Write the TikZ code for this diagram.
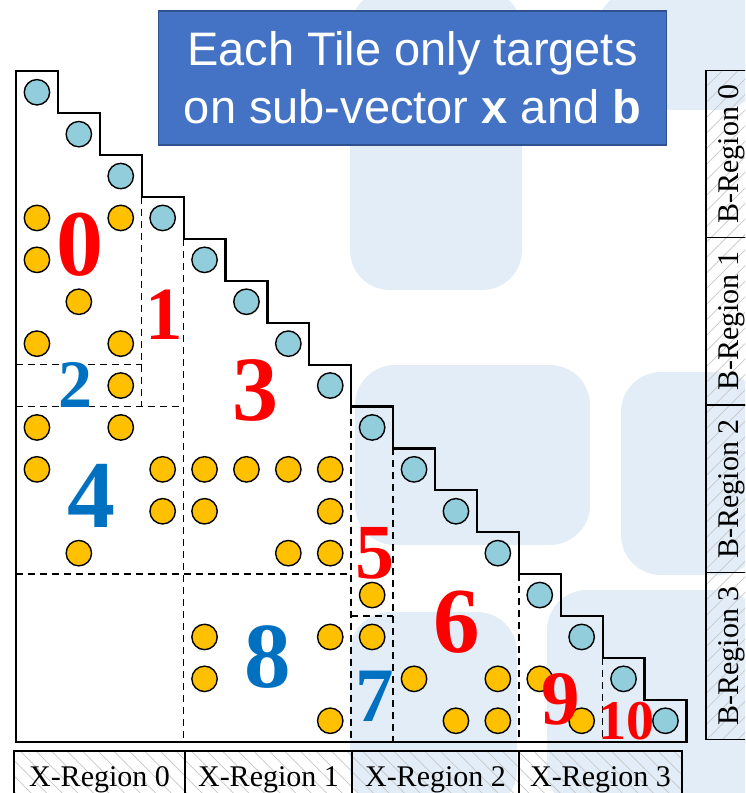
\documentclass[tikz,border=0pt]{standalone}
\usepackage{fontspec}
\setmainfont{Liberation Serif}
\newfontfamily\titlefont{Liberation Sans}
\usepackage{xcolor}
\usepackage{tikz}
\usetikzlibrary{patterns.meta}
\definecolor{wmblue}{RGB}{226,237,247}
\definecolor{titleblue}{RGB}{68,114,196}
\definecolor{titleedge}{RGB}{47,82,143}
\definecolor{diagblue}{RGB}{146,205,220}
\definecolor{nzyellow}{RGB}{255,192,0}
\definecolor{tilered}{RGB}{255,0,0}
\definecolor{tileblue}{RGB}{0,112,192}

\begin{document}
\begin{tikzpicture}[x=1pt, y=-1pt,
  dot/.style={draw=black, line width=1.4pt},
  tileedge/.style={line width=1.5pt, dash pattern=on 7pt off 5pt},
  regionbox/.style={draw=black, line width=1.8pt, pattern color=black!22},
  regionlabel/.style={inner sep=0pt, font=\fontsize{30}{36}\selectfont},
  tilenum/.style 2 args={text=#1, inner sep=0pt, font=\fontsize{#2}{#2}\selectfont\bfseries},
  titlebox/.style={fill=titleblue, draw=titleedge, line width=1.6pt, text=white,
    align=center, inner sep=0pt, minimum width=508pt, minimum height=134pt,
    font=\titlefont\fontsize{47}{58}\selectfont}]

\clip (0,0) rectangle (745,793);

% faint logo in the background
\foreach \xa/\ya/\xb/\yb in {350/-10/522/290, 597/-10/760/110, 355/365/590/545,
    621/372/760/575, 350/612/517/810, 547/590/760/810} {
  \fill[wmblue, rounded corners=40pt] (\xa,\ya) rectangle (\xb,\yb);
}

\node[titlebox] (title) at (412.5,78) {Each Tile only targets\\on sub-vector \textbf{x} and \textbf{b}};

\begin{scope}[shift={(16,71.3)}, x=41.9pt, y=-41.9pt]
  \draw[line width=2.2pt] (0,0) \foreach \r in {0,...,15} { -- (\r+1,\r) -- (\r+1,\r+1) } -- (0,16) -- cycle;

  % tile borders
  \foreach \a/\b in {{3,3}/{3,8}, {4,4}/{4,16}, {0,7}/{3,7}, {0,8}/{4,8}, {0,12}/{8,12},
      {8,8}/{8,16}, {9,9}/{9,16}, {8,13}/{9,13}, {12,12}/{12,16}, {14,14}/{14,16}} {
    \draw[tileedge] (\a) -- (\b);
  }

  \foreach \r in {0,...,15} {
    \draw[dot, fill=diagblue] (\r+0.5,\r+0.5) circle (12.7pt);
  }
  \foreach \c/\r in {0/3, 2/3, 0/4, 1/5, 0/6, 2/6, 2/7, 0/8, 2/8,
      0/9, 3/9, 4/9, 5/9, 6/9, 7/9, 3/10, 4/10, 7/10, 1/11, 6/11, 7/11,
      8/12, 4/13, 7/13, 8/13, 4/14, 9/14, 11/14, 12/14, 7/15, 10/15, 11/15, 13/15} {
    \draw[dot, fill=nzyellow] (\c+0.5,\r+0.5) circle (12.7pt);
  }
\end{scope}

\node[tilenum={tilered}{94}] (t0) at (80,245) {0};
\node[tilenum={tilered}{75}] (t1) at (164,315) {1};
\node[tilenum={tileblue}{68}] (t2) at (75,385) {2};
\node[tilenum={tilered}{92}] (t3) at (255,390) {3};
\node[tilenum={tileblue}{96}] (t4) at (91,496) {4};
\node[tilenum={tilered}{78}] (t5) at (375,553) {5};
\node[tilenum={tilered}{93}] (t6) at (457,622) {6};
\node[tilenum={tileblue}{77}] (t7) at (375,696) {7};
\node[tilenum={tileblue}{93}] (t8) at (268,657) {8};
\node[tilenum={tilered}{77}] (t9) at (561,699) {9};
\node[tilenum={tilered}{56}] (t10) at (626,721) {10};

\foreach \i/\xa/\xb in {0/14/185, 1/185/352, 2/352/519, 3/519/682} {
  \draw[regionbox, pattern={Lines[angle=-45, distance=11pt, line width=0.7pt]}] (\xa,750.7) rectangle (\xb,805);
  \node[regionlabel, anchor=base] (xr\i) at ({(\xa+\xb)/2},786) {X-Region \i};
}
\foreach \i/\ya/\yb in {0/70.5/237.5, 1/237.5/405, 2/405/572.5, 3/572.5/739.5} {
  \draw[regionbox, pattern={Lines[angle=45, distance=11pt, line width=0.7pt]}] (706,\ya) rectangle (760,\yb);
  \node[regionlabel, rotate=90, anchor=base] (br\i) at (738,{(\ya+\yb)/2}) {B-Region \i};
}

\end{tikzpicture}
\end{document}
